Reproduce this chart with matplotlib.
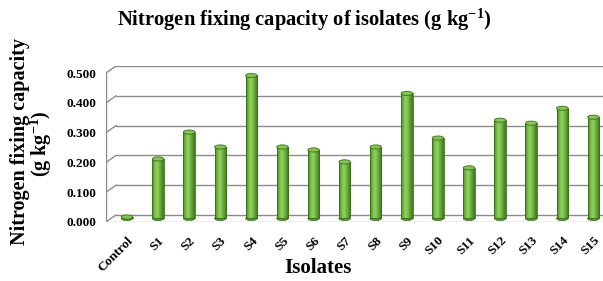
import numpy as np
import matplotlib
matplotlib.use("Agg")
import matplotlib.pyplot as plt
from matplotlib.patches import Ellipse
from matplotlib.colors import LinearSegmentedColormap

# =========================
# data
# =========================
isolates = ["Control", "S1", "S2", "S3", "S4", "S5", "S6", "S7",
            "S8", "S9", "S10", "S11", "S12", "S13", "S14", "S15"]
n_fix = [0.005, 0.20, 0.29, 0.24, 0.48, 0.24, 0.23, 0.19,
         0.24, 0.42, 0.27, 0.17, 0.33, 0.32, 0.37, 0.34]
y_ticks = [0.0, 0.1, 0.2, 0.3, 0.4, 0.5]
y_ticklabels = ["0.000", "0.100", "0.200", "0.300", "0.400", "0.500"]

plt.rcParams["font.family"] = ["Liberation Serif", "DejaVu Serif"]
plt.rcParams["font.weight"] = "bold"
# superscripts in the same serif face
plt.rcParams["mathtext.fontset"] = "custom"
plt.rcParams["mathtext.rm"] = "Liberation Serif:bold"
plt.rcParams["mathtext.bf"] = "Liberation Serif:bold"
plt.rcParams["mathtext.default"] = "bf"

fig = plt.figure(figsize=(6.03, 2.81), dpi=100)
ax = fig.add_axes([106 / 603, 0.21, 1 - 106 / 603, 0.555])

# fake 3D geometry (Excel style back wall offset)
depth_y = 0.0235        # front edge is lower than back wall
x_front = -0.675        # left wall front edge
x_back = -0.354         # left wall back edge
x_max = 15.31
grid_col = "#8c8c8c"

for v in y_ticks:
    ax.plot([x_back, x_max], [v, v], color=grid_col, lw=1.0, zorder=1)
    ax.plot([x_front, x_back], [v - depth_y, v], color=grid_col, lw=1.0, zorder=1)
ax.plot([x_front, x_front], [-depth_y, y_ticks[-1] - depth_y], color=grid_col, lw=1.0, zorder=1)
ax.plot([x_front, x_max], [-depth_y, -depth_y], color="#b0b0b0", lw=1.0, zorder=1)

# cylinders
x = np.arange(len(isolates))
width = 0.37
base = -depth_y / 2
bars = ax.bar(x, n_fix, width=width, bottom=base, color="none",
              edgecolor="#3d6e1e", linewidth=0.6, zorder=3)

cyl = LinearSegmentedColormap.from_list(
    "cyl", ["#437f22", "#74b943", "#94d262", "#7abd48", "#55962d", "#3f7822"])
grad = np.linspace(0, 1, 64).reshape(1, -1)
cap_h = 0.014
for rect, v in zip(bars, n_fix):
    x0 = rect.get_x()
    x1 = x0 + rect.get_width()
    y0 = rect.get_y()
    y1 = y0 + rect.get_height()
    im = ax.imshow(grad, extent=[x0, x1, y0, y1], aspect="auto",
                   cmap=cyl, zorder=2, interpolation="bicubic")
    im.set_clip_path(rect)
    # bottom and top ellipses
    ax.add_patch(Ellipse((x0 + width / 2, y0), width, cap_h,
                         facecolor="#55962d", edgecolor="#3d6e1e", lw=0.5, zorder=1.9))
    ax.add_patch(Ellipse((x0 + width / 2, y1), width, cap_h,
                         facecolor="#84c454", edgecolor="#3d6e1e", lw=0.6, zorder=4))

ax.set_xlim(x_front, x_max)
ax.set_ylim(-depth_y, y_ticks[-1])

for s in ax.spines.values():
    s.set_visible(False)

ax.set_yticks([v - depth_y for v in y_ticks])
ax.set_yticklabels(y_ticklabels, fontsize=9.5, fontweight="bold")
ax.set_xticks(x)
ax.set_xticklabels(isolates, rotation=45, ha="right", va="top",
                   rotation_mode="anchor", fontsize=9.5, fontweight="bold")
ax.tick_params(axis="both", length=0)
ax.tick_params(axis="y", pad=7)
ax.tick_params(axis="x", pad=9)

fig.text(304 / 603, 0.93, "Nitrogen fixing capacity of isolates (g kg$^{-1}$)",
         ha="center", va="center", fontsize=14.8, fontweight="bold")
fig.text(20 / 603, 0.495, "Nitrogen fixing capacity",
         rotation=90, ha="center", va="center", fontsize=14.5, fontweight="bold")
fig.text(41 / 603, 0.49, "(g kg$^{-1}$)",
         rotation=90, ha="center", va="center", fontsize=14.5, fontweight="bold")
fig.text(318 / 603, 0.045, "Isolates", ha="center", va="center",
         fontsize=15, fontweight="bold")

fig.savefig("out.png", dpi=100)
